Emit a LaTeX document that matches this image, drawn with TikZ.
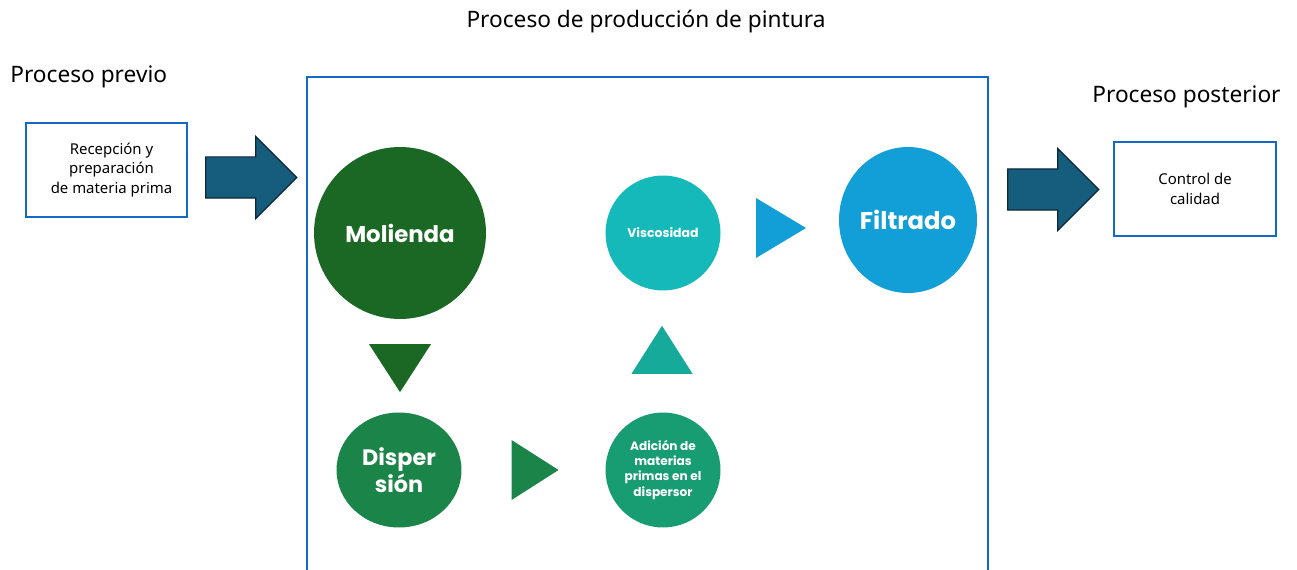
\documentclass[tikz,border=0pt]{standalone}
\usepackage{fontspec}
\setmainfont{Noto Sans}
\newfontfamily\negrita{Poppins}
\usepackage{xcolor}
\definecolor{azulMarco}{RGB}{21,105,196}
\definecolor{azulFlecha}{RGB}{22,92,125}
\definecolor{bordeFlecha}{RGB}{12,40,55}
\definecolor{verdeOscuro}{RGB}{27,104,36}
\definecolor{verdeMedio}{RGB}{27,132,72}
\definecolor{verdeAgua}{RGB}{24,156,114}
\definecolor{turquesa}{RGB}{22,185,185}
\definecolor{turquesaOscuro}{RGB}{22,170,155}
\definecolor{celeste}{RGB}{18,158,214}
\usepackage{tikz}
\usetikzlibrary{shapes.geometric,shapes.arrows,positioning}
\tikzstyle{circulo}=[circle, inner sep=0pt, text=white,
                     font=\negrita\bfseries, align=center]
\tikzstyle{caja}   =[draw=azulMarco, line width=1.2pt, inner sep=0pt,
                     align=center, font=\fontsize{8.5}{11}\selectfont]
\tikzstyle{flecha} =[single arrow, fill=azulFlecha, draw=bordeFlecha,
                     line width=0.7pt, inner xsep=0pt, inner ysep=0.4cm,
                     single arrow head extend=0.41cm, minimum height=1.82cm]
\tikzstyle{punta}  =[isosceles triangle, isosceles triangle stretches,
                     inner sep=0pt]
\tikzstyle{rotulo} =[font=\fontsize{12.9}{15}\selectfont, inner sep=0pt]

\begin{document}
\begin{tikzpicture}[x=0.02cm,y=-0.02cm]
    \useasboundingbox (0,0) rectangle (1297,570);
    \clip (0,0) rectangle (1297,570);

    % titulos
    \draw (646,22) node (titulo) [rotulo] {Proceso de producción de pintura};
    \draw (10,77) node (previo) [rotulo,anchor=west] {Proceso previo};
    \draw (1092,97) node (posterior) [rotulo,anchor=west] {Proceso posterior};

    % marco del proceso
    \draw (647.5,348.5) node (marco) [draw=azulMarco, line width=1.2pt,
        minimum width=13.62cm, minimum height=10.86cm] {};

    % procesos externos
    \draw (106.5,170) node (recep) [caja, minimum width=3.22cm, minimum height=1.88cm]
        {\hspace{0.2cm}Recepción y\\\hspace{0.2cm}preparación\\\hspace{0.2cm}de materia prima};
    \draw (1195,189) node (control) [caja, minimum width=3.24cm, minimum height=1.88cm]
        {Control de\\calidad};
    \draw (241,177.5) node (f1) [flecha] {};
    \draw (1043,189.5) node (f2) [flecha] {};

    % etapas
    \draw (400,233) node (mol) [circulo, fill=verdeOscuro, minimum size=3.44cm,
        font=\negrita\bfseries\fontsize{13}{15}\selectfont] {Molienda};
    \draw (399,470) node (disp) [circulo, ellipse, fill=verdeMedio, minimum width=2.5cm,
        minimum height=2.3cm, font=\negrita\bfseries\fontsize{12.7}{15}\selectfont] {Disper\\sión};
    \draw (663,470) node (adic) [circulo, fill=verdeAgua, minimum size=2.3cm,
        font=\negrita\bfseries\fontsize{6.9}{8.6}\selectfont]
        {Adición de\\materias\\primas en el\\dispersor};
    \draw (663,233) node (visc) [circulo, fill=turquesa, minimum size=2.3cm,
        font=\negrita\bfseries\fontsize{7.1}{8}\selectfont] {Viscosidad};
    \draw (908,220) node (filt) [circulo, ellipse, fill=celeste, minimum width=2.76cm,
        minimum height=2.92cm, font=\negrita\bfseries\fontsize{13.8}{15}\selectfont] {Filtrado};

    % puntas entre etapas
    \draw (400,361) node (p1) [punta, fill=verdeOscuro, shape border rotate=270,
        minimum width=1.24cm, minimum height=0.96cm] {};
    \draw (528,470) node (p2) [punta, fill=verdeMedio,
        minimum width=1.2cm, minimum height=0.94cm] {};
    \draw (662,357) node (p3) [punta, fill=turquesaOscuro, shape border rotate=90,
        minimum width=1.22cm, minimum height=0.96cm] {};
    \draw (773,228) node (p4) [punta, fill=celeste,
        minimum width=1.2cm, minimum height=1.0cm] {};

\end{tikzpicture}
\end{document}
